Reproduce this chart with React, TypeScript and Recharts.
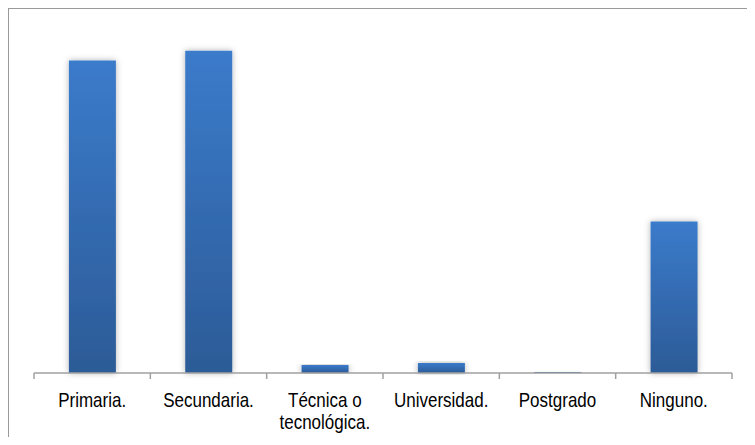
import { Bar, BarChart, XAxis, YAxis } from "recharts";

const categories = [
  "Primaria.",
  "Secundaria.",
  "Técnica o\ntecnológica.",
  "Universidad.",
  "Postgrado",
  "Ninguno.",
];
const values = [38.8, 40.0, 1.0, 1.25, 0.12, 18.8];

const data = categories.map((name, i) => ({ name, value: values[i] }));

const CategoryTick = (props: any) => {
  const { x, y, payload, index } = props;
  const half = payload?.offset ?? 58;
  const lines = String(payload.value).split("\n");
  const axisY = y - 6;
  return (
    <g>
      <line x1={x - half} x2={x - half} y1={axisY} y2={axisY + 6} stroke="#a0a0a0" strokeWidth={1.5} />
      {index === categories.length - 1 && (
        <line x1={x + half} x2={x + half} y1={axisY} y2={axisY + 6} stroke="#a0a0a0" strokeWidth={1.5} />
      )}
      <g transform={`translate(${x},${y}) scale(1,1.2)`}>
        <text textAnchor="middle" fill="#000" fontSize={17} fontFamily="Liberation Sans, Arial, sans-serif">
          {lines.map((l, i) => (
            <tspan key={i} x={0} y={23.75 + i * 18.3}>
              {l}
            </tspan>
          ))}
        </text>
      </g>
    </g>
  );
};

const App = () => {
  return (
    <div
      style={{
        position: "relative",
        width: 755,
        height: 445,
        margin: -8,
        overflow: "hidden",
        background: "#fff",
      }}
    >
      <div style={{ position: "absolute", left: 0, top: 0, width: 755, height: 2, background: "#000" }} />
      <div
        style={{
          position: "absolute",
          left: 7,
          top: 7,
          width: 800,
          height: 500,
          borderTop: "2px solid #9a9a9a",
          borderLeft: "2px solid #9a9a9a",
        }}
      />
      <div style={{ position: "absolute", left: 0, top: 0 }}>
        <BarChart
          width={755}
          height={445}
          data={data}
          margin={{ top: 10.6, right: 23, left: 34, bottom: 12 }}
          barCategoryGap="30%"
        >
          <defs>
            <linearGradient id="barFill" x1="0" y1="0" x2="0" y2="1">
              <stop offset="0%" stopColor="#3b7bcb" />
              <stop offset="100%" stopColor="#2c5b97" />
            </linearGradient>
            <filter id="barShadow" x="-30%" y="-10%" width="160%" height="120%">
              <feDropShadow dx="0" dy="0" stdDeviation="3" floodColor="#000" floodOpacity="0.3" />
            </filter>
          </defs>
          <YAxis hide domain={[0, 45]} />
          <XAxis
            dataKey="name"
            height={60}
            interval={0}
            tickLine={false}
            tickSize={6}
            tickMargin={0}
            axisLine={{ stroke: "#a0a0a0", strokeWidth: 1.5 }}
            tick={<CategoryTick />}
          />
          <Bar
            dataKey="value"
            fill="url(#barFill)"
            filter="url(#barShadow)"
            isAnimationActive={false}
          />
        </BarChart>
      </div>
    </div>
  );
};

export default App;
